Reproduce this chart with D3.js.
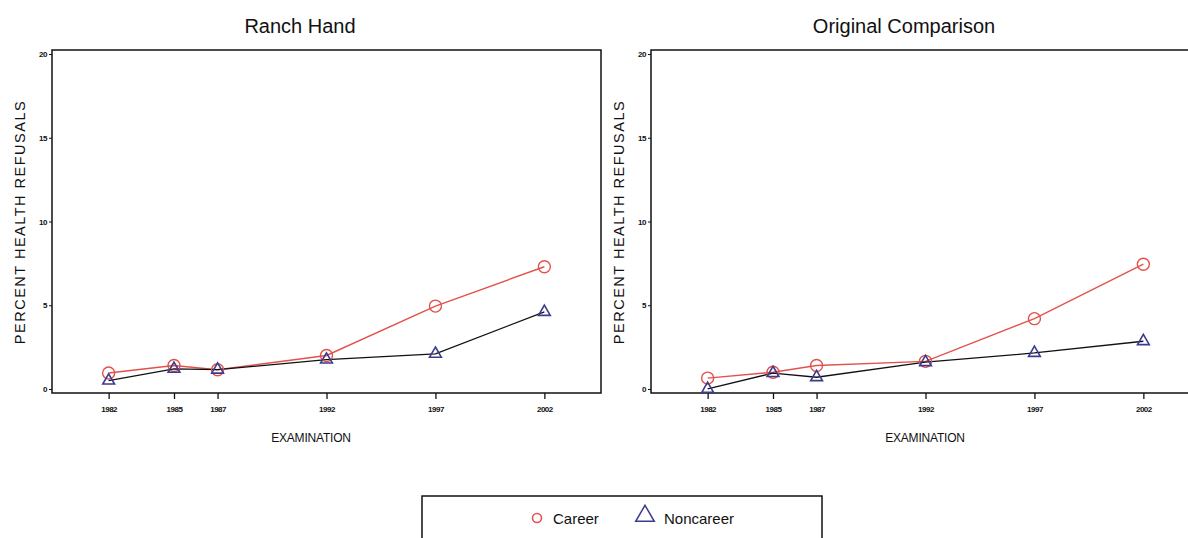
<!DOCTYPE html>
<html>
<head>
<meta charset="utf-8">
<script src="https://cdn.jsdelivr.net/npm/d3@7"></script>
<style>
	body { margin: 0; background: #fff; }
	svg { display: block; font-family: "Liberation Sans", Arial, sans-serif; }
</style>
</head>
<body>
<svg id="chart" width="1188" height="538"></svg>
<script>
// DATA
let years = [1982, 1985, 1987, 1992, 1997, 2002];
let yTicks = [0, 5, 10, 15, 20];
let panelTitles = ['Ranch Hand', 'Original Comparison'];
let seriesNames = ['Career', 'Noncareer'];

let ranchCareer = [0.95, 1.4, 1.15, 2.0, 4.95, 7.3];
let ranchNoncareer = [0.5, 1.2, 1.15, 1.75, 2.1, 4.6];
let compCareer = [0.65, 1.0, 1.4, 1.65, 4.2, 7.45];
let compNoncareer = [0.0, 0.95, 0.7, 1.6, 2.15, 2.85];

let careerColor = '#e2524c';
let triColor = '#3b3b8f';

let svg = d3.select('#chart');

let y = d3.scaleLinear()
	.domain([-0.24, 20.24])
	.range([393, 50]);

function drawPanel(left, title, career, noncareer, titleX, xlabX) {
	let x = d3.scaleLinear()
		.domain([1979.4, 2004.6])
		.range([left, left + 549]);

	let g = svg.append('g');

	// frame
	g.append('rect')
		.attr('x', left)
		.attr('y', 50)
		.attr('width', 549)
		.attr('height', 343)
		.attr('fill', 'none')
		.attr('stroke', '#111')
		.attr('stroke-width', 1.5);

	let xAxis = d3.axisBottom(x)
		.tickValues(years)
		.tickFormat(d3.format('d'))
		.tickSize(6)
		.tickPadding(7);

	let gx = g.append('g')
		.attr('transform', 'translate(0,393)')
		.call(xAxis);
	gx.select('.domain').remove();
	gx.selectAll('line').attr('stroke', '#111').attr('stroke-width', 1.3);
	gx.selectAll('text')
		.attr('font-size', 8)
		.attr('font-weight', 'bold')
		.attr('letter-spacing', -0.5)
		.attr('fill', '#111');

	let yAxis = d3.axisLeft(y)
		.tickValues(yTicks)
		.tickSize(3)
		.tickPadding(2);

	let gy = g.append('g')
		.attr('transform', 'translate(' + left + ',0)')
		.call(yAxis);
	gy.select('.domain').remove();
	gy.selectAll('line').attr('stroke', '#111');
	gy.selectAll('text')
		.attr('font-size', 8)
		.attr('font-weight', 'bold')
		.attr('letter-spacing', -0.5)
		.attr('fill', '#111');

	// titles and labels
	g.append('text')
		.attr('x', titleX)
		.attr('y', 33)
		.attr('text-anchor', 'middle')
		.attr('font-size', 20)
		.attr('fill', '#111')
		.text(title);

	g.append('text')
		.attr('x', xlabX)
		.attr('y', 442)
		.attr('text-anchor', 'middle')
		.attr('font-size', 12)
		.attr('letter-spacing', -0.2)
		.attr('fill', '#111')
		.text('EXAMINATION');

	g.append('text')
		.attr('transform', 'translate(' + (left - 27) + ',222) rotate(-90)')
		.attr('text-anchor', 'middle')
		.attr('font-size', 14.5)
		.attr('letter-spacing', 1.5)
		.attr('fill', '#111')
		.text('PERCENT HEALTH REFUSALS');

	let line = d3.line()
		.x(function(d, i) { return x(years[i]); })
		.y(function(d) { return y(d); });

	g.append('path')
		.datum(career)
		.attr('d', line)
		.attr('fill', 'none')
		.attr('stroke', careerColor)
		.attr('stroke-width', 1.4);

	g.append('path')
		.datum(noncareer)
		.attr('d', line)
		.attr('fill', 'none')
		.attr('stroke', '#111')
		.attr('stroke-width', 1.3);

	g.selectAll('circle.career')
		.data(career)
		.enter()
		.append('circle')
		.attr('class', 'career')
		.attr('cx', function(d, i) { return x(years[i]); })
		.attr('cy', function(d) { return y(d); })
		.attr('r', 6)
		.attr('fill', 'none')
		.attr('stroke', careerColor)
		.attr('stroke-width', 1.4);

	let tri = d3.symbol().type(d3.symbolTriangle).size(60);

	g.selectAll('path.noncareer')
		.data(noncareer)
		.enter()
		.append('path')
		.attr('class', 'noncareer')
		.attr('d', tri)
		.attr('transform', function(d, i) { return 'translate(' + x(years[i]) + ',' + y(d) + ')'; })
		.attr('fill', 'none')
		.attr('stroke', triColor)
		.attr('stroke-width', 1.6);
}

drawPanel(52, panelTitles[0], ranchCareer, ranchNoncareer, 300, 311);
drawPanel(651, panelTitles[1], compCareer, compNoncareer, 904, 925);

// legend
let legend = svg.append('g');
legend.append('rect')
	.attr('x', 422)
	.attr('y', 496)
	.attr('width', 400)
	.attr('height', 60)
	.attr('fill', 'none')
	.attr('stroke', '#111')
	.attr('stroke-width', 1.5);

legend.append('circle')
	.attr('cx', 537)
	.attr('cy', 518)
	.attr('r', 4.5)
	.attr('fill', 'none')
	.attr('stroke', careerColor)
	.attr('stroke-width', 1.6);

legend.append('text')
	.attr('x', 553)
	.attr('y', 524)
	.attr('font-size', 15)
	.attr('fill', '#111')
	.text(seriesNames[0]);

legend.append('path')
	.attr('d', d3.symbol().type(d3.symbolTriangle).size(150))
	.attr('transform', 'translate(645,516)')
	.attr('fill', 'none')
	.attr('stroke', triColor)
	.attr('stroke-width', 1.5);

legend.append('text')
	.attr('x', 664)
	.attr('y', 524)
	.attr('font-size', 15)
	.attr('fill', '#111')
	.text(seriesNames[1]);
</script>
</body>
</html>
